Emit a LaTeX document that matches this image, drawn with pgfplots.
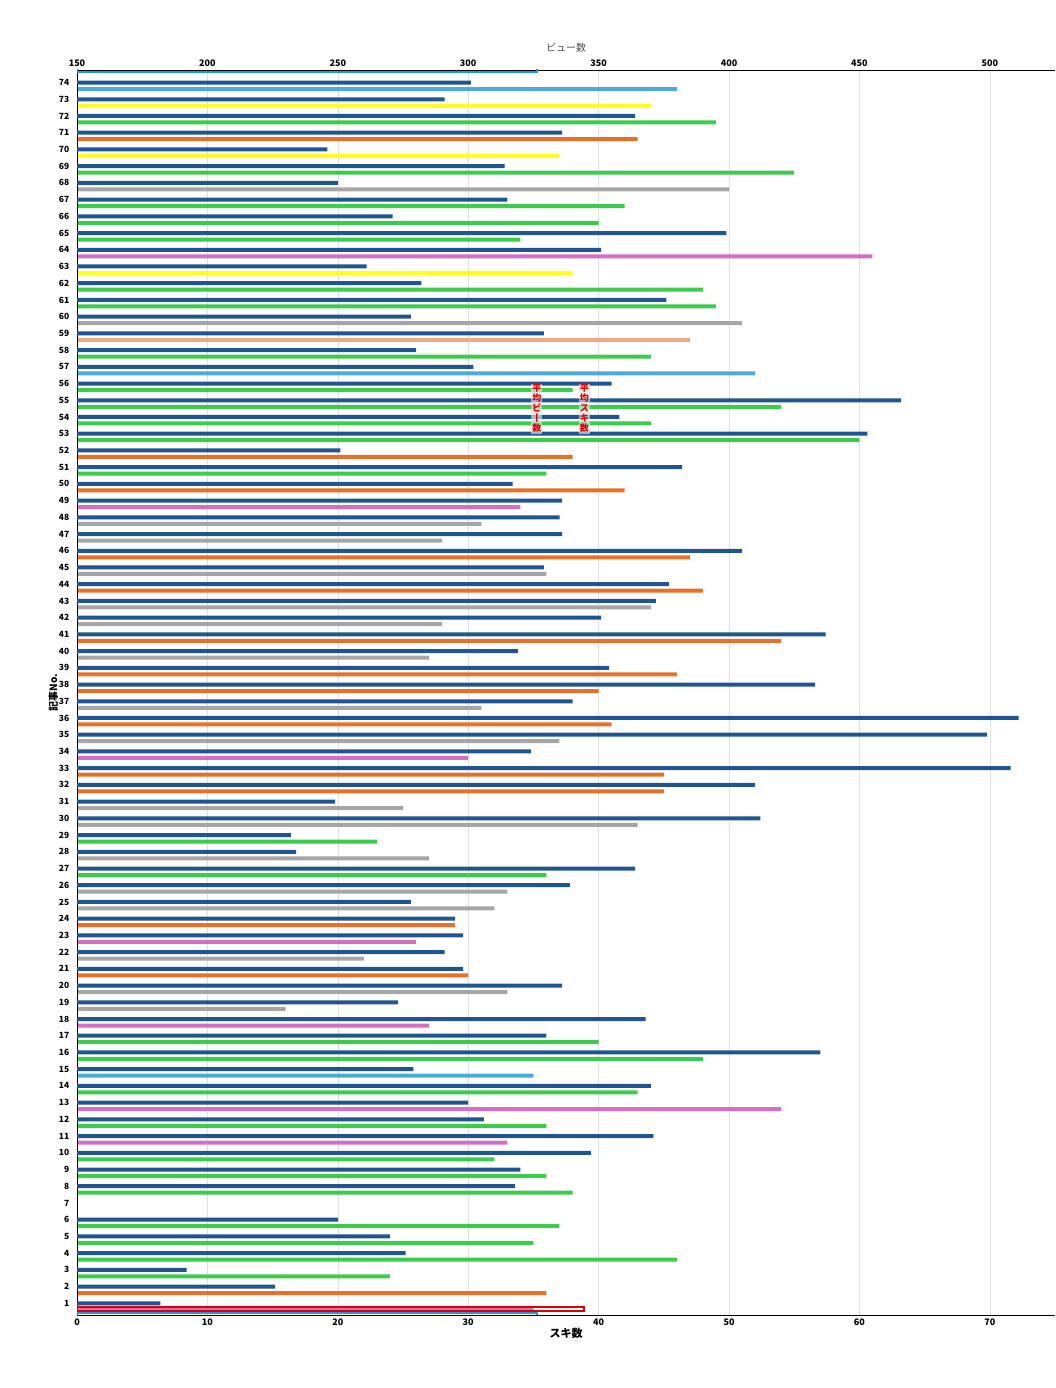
\documentclass[border=0pt]{standalone}
\usepackage{pgfplots}
\pgfplotsset{compat=1.18}
\usepackage{fontspec}
\setmainfont{Noto Sans CJK JP}
\usetikzlibrary{calc}
\definecolor{dblue}{HTML}{1F5591}
\definecolor{cgreen}{HTML}{3CCB4C}
\definecolor{corange}{HTML}{E8702A}
\definecolor{cgray}{HTML}{A6A6A6}
\definecolor{cpink}{HTML}{D36FC6}
\definecolor{cyellow}{HTML}{FFFF1A}
\definecolor{clblue}{HTML}{4BA9DB}
\definecolor{csalmon}{HTML}{F0A882}
\definecolor{avgblue}{HTML}{1E9BD7}
\definecolor{avgred}{HTML}{E00000}
\begin{document}
\begin{tikzpicture}
\pgfplotsset{common/.style={scale only axis, width=978pt, height=1245pt,
  ymin=0.3, ymax=74.75, xbar, bar width=4pt,
  /pgf/number format/assume math mode=true,
  tick label style={font=\bfseries\fontsize{9}{10}\selectfont},
  tick style={draw=none}}}
% colored (suki) bars, bottom axis
\begin{axis}[common, name=ax2, xmin=0, xmax=75,
  axis x line*=bottom, axis y line=none,
  xtick={0,10,...,70}, xmajorgrids, grid style={gray!25},
  xlabel={\bfseries スキ数}, xlabel style={font=\fontsize{11}{12}\selectfont, yshift=4pt},
  ytick=\empty]
\addplot[draw=none, fill=cgreen, bar shift=-6.5pt] coordinates {(49,72)(55,69)(42,67)(40,66)(34,65)(48,62)(49,61)(44,58)(38,56)(54,55)(44,54)(60,53)(36,51)(23,29)(36,27)(40,17)(48,16)(43,14)(36,12)(32,10)(36,9)(38,8)(37,6)(35,5)(46,4)(24,3)};
\addplot[draw=none, fill=corange, bar shift=-6.5pt] coordinates {(43,71)(38,52)(42,50)(47,46)(48,44)(54,41)(46,39)(40,38)(41,36)(45,33)(45,32)(29,24)(30,21)(36,2)};
\addplot[draw=none, fill=cgray, bar shift=-6.5pt] coordinates {(50,68)(51,60)(31,48)(28,47)(36,45)(44,43)(28,42)(27,40)(31,37)(37,35)(25,31)(43,30)(27,28)(33,26)(32,25)(22,22)(33,20)(16,19)};
\addplot[draw=none, fill=cpink, bar shift=-6.5pt] coordinates {(61,64)(34,49)(30,34)(26,23)(27,18)(54,13)(33,11)(35,1)};
\addplot[draw=none, fill=cyellow, bar shift=-6.5pt] coordinates {(44,73)(37,70)(38,63)};
\addplot[draw=none, fill=clblue, bar shift=-6.5pt] coordinates {(46,74)(52,57)(35,15)};
\addplot[draw=none, fill=csalmon, bar shift=-6.5pt] coordinates {(47,59)};
\end{axis}
% view bars, top axis
\begin{axis}[common, name=ax, xmin=150, xmax=525,
  axis x line*=top, axis y line*=left,
  xtick={150,200,...,500},
  xlabel={ビュー数}, xlabel style={font=\fontsize{10}{12}\selectfont, text=black!70},
  ylabel={\bfseries 記事No.}, ylabel style={font=\fontsize{10}{12}\selectfont, yshift=-6pt},
  ytick={1,...,74}, yticklabel style={font=\bfseries\fontsize{8.5}{9}\selectfont}]
\addplot[draw=none, fill=dblue, bar shift=0pt] coordinates {(301,74)(291,73)(364,72)(336,71)(246,70)(314,69)(250,68)(315,67)(271,66)(399,65)(351,64)(261,63)(282,62)(376,61)(278,60)(329,59)(280,58)(302,57)(355,56)(466,55)(358,54)(453,53)(251,52)(382,51)(317,50)(336,49)(335,48)(336,47)(405,46)(329,45)(377,44)(372,43)(351,42)(437,41)(319,40)(354,39)(433,38)(340,37)(511,36)(499,35)(324,34)(508,33)(410,32)(249,31)(412,30)(232,29)(234,28)(364,27)(339,26)(278,25)(295,24)(298,23)(291,22)(298,21)(336,20)(273,19)(368,18)(330,17)(435,16)(279,15)(370,14)(300,13)(306,12)(371,11)(347,10)(320,9)(318,8)(250,6)(270,5)(276,4)(192,3)(226,2)(182,1)};
\addplot[avgblue, line width=1.6pt, sharp plot, xbar=false] coordinates {(326.3,0.3)(326.3,74.75)};
\addplot[avgred, line width=1.6pt, sharp plot, xbar=false] coordinates {(344.5,0.3)(344.5,74.75)};
\node[fill=gray!25, fill opacity=0.7, text opacity=1, text=avgred, font=\bfseries\fontsize{9}{10}\selectfont, inner sep=1pt, align=center]
  at (axis cs:326.3,54.5) {平\\均\\ビ\\丨\\数};
\node[fill=gray!25, fill opacity=0.7, text opacity=1, text=avgred, font=\bfseries\fontsize{9}{10}\selectfont, inner sep=1pt, align=center]
  at (axis cs:344.5,54.5) {平\\均\\ス\\キ\\数};
\end{axis}
\pgfresetboundingbox
\path ($(ax.south west)+(-77pt,-73pt)$) rectangle ($(ax.north east)+(0pt,70pt)$);
\end{tikzpicture}
\end{document}
